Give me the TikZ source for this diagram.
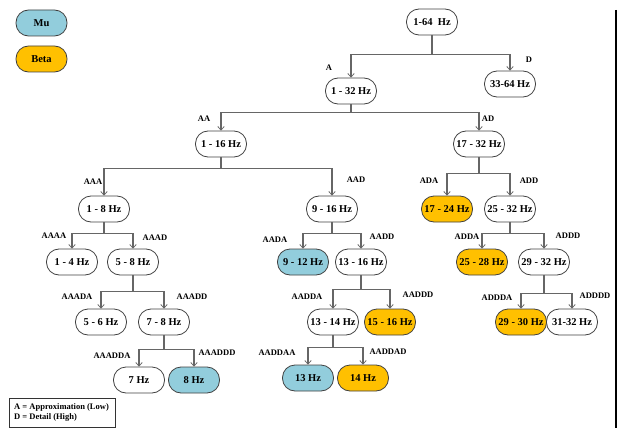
\documentclass[tikz,border=0pt]{standalone}
\usepackage{fontspec}
\setmainfont{Liberation Serif}
\usetikzlibrary{arrows.meta}
\definecolor{mublue}{HTML}{92CDDC}
\definecolor{betaorange}{HTML}{FFC000}
\tikzset{
  band/.style={draw=black!75, line width=0.8pt, rounded corners=12.5pt, minimum width=51pt, minimum height=26pt, inner sep=0pt, font=\fontsize{10.5}{12}\selectfont\bfseries, fill=white},
  mu/.style={band, fill=mublue},
  beta/.style={band, fill=betaorange},
  lbl/.style={font=\fontsize{8.5}{10}\selectfont\bfseries, inner sep=0pt},
  conn/.style={draw=black!60, line width=1.1pt},
  arr/.style={conn, -{Straight Barb[length=3.5pt,width=6.5pt,line width=0.8pt]}},
}
\begin{document}
\begin{tikzpicture}[x=1pt,y=-1pt]
\useasboundingbox (0,0) rectangle (624,428);
% legend
\node[mu] (legmu) at (41.5,23) {Mu};
\node[beta] (legbeta) at (41.5,59) {Beta};
% tree nodes
\node[band] (top) at (432,22) {1-64\ \ Hz};
\node[band] (a) at (351,91) {1 - 32 Hz};
\node[band] (d) at (510,84) {33-64 Hz};
\node[band] (aa) at (221,144) {1 - 16 Hz};
\node[band] (ad) at (479,144) {17 - 32 Hz};
\node[band] (aaa) at (104,209) {1 - 8 Hz};
\node[band] (aad) at (332,209) {9 - 16 Hz};
\node[beta] (ada) at (447,209) {17 - 24 Hz};
\node[band] (add) at (510,209) {25 - 32 Hz};
\node[band] (aaaa) at (72,262) {1 - 4 Hz};
\node[band] (aaad) at (133,262) {5 - 8 Hz};
\node[mu] (aada) at (303,262) {9 - 12 Hz};
\node[band] (aadd) at (361,262) {13 - 16 Hz};
\node[beta] (adda) at (482,262) {25 - 28 Hz};
\node[band] (addd) at (544,262) {29 - 32 Hz};
\node[band] (aaada) at (101,322) {5 - 6 Hz};
\node[band] (aaadd) at (164,322) {7 - 8 Hz};
\node[band] (aadda) at (333,322) {13 - 14 Hz};
\node[beta] (aaddd) at (390,322) {15 - 16 Hz};
\node[beta] (addda) at (521,322) {29 - 30 Hz};
\node[band] (adddd) at (572,322) {31-32 Hz};
\node[band] (aaadda) at (139,380) {7 Hz};
\node[mu] (aaaddd) at (194,380) {8 Hz};
\node[mu] (aaddaa) at (308,378) {13 Hz};
\node[beta] (aaddad) at (363,378) {14 Hz};
% connectors
\draw[arr] (top.south) -- ++(0,19) -| (a.north);
\draw[arr] (top.south) -- ++(0,19) -| (d.north);
\draw[arr] (a.south) -- ++(0,8) -| (aa.north);
\draw[arr] (a.south) -- ++(0,8) -| (ad.north);
\draw[arr] (aa.south) -- ++(0,11) -| (aaa.north);
\draw[arr] (aa.south) -- ++(0,11) -| (aad.north);
\draw[arr] (ad.south) -- ++(0,16) -| (ada.north);
\draw[arr] (ad.south) -- ++(0,16) -| (add.north);
\draw[arr] (aaa.south) -- ++(0,11) -| (aaaa.north);
\draw[arr] (aaa.south) -- ++(0,11) -| (aaad.north);
\draw[arr] (aad.south) -- ++(0,11) -| (aada.north);
\draw[arr] (aad.south) -- ++(0,11) -| (aadd.north);
\draw[arr] (add.south) -- ++(0,11) -| (adda.north);
\draw[arr] (add.south) -- ++(0,11) -| (addd.north);
\draw[arr] (aaad.south) -- ++(0,16) -| (aaada.north);
\draw[arr] (aaad.south) -- ++(0,16) -| (aaadd.north);
\draw[arr] (aadd.south) -- ++(0,14) -| (aadda.north);
\draw[arr] (aadd.south) -- ++(0,14) -| (aaddd.north);
\draw[arr] (addd.south) -- ++(0,18) -| (addda.north);
\draw[arr] (addd.south) -- ++(0,18) -| (adddd.north);
\draw[arr] (aaadd.south) -- ++(0,14) -| (aaadda.north);
\draw[arr] (aaadd.south) -- ++(0,14) -| (aaaddd.north);
\draw[arr] (aadda.south) -- ++(0,12) -| (aaddaa.north);
\draw[arr] (aadda.south) -- ++(0,12) -| (aaddad.north);
% branch labels
\node[lbl] (lA) at (329,68) {A};
\node[lbl] (lD) at (529,60) {D};
\node[lbl] (lAA) at (204,119) {AA};
\node[lbl] (lAD) at (488,119) {AD};
\node[lbl] (lAAA) at (93,182) {AAA};
\node[lbl] (lAAD) at (356,180) {AAD};
\node[lbl] (lADA) at (429,181) {ADA};
\node[lbl] (lADD) at (529,181) {ADD};
\node[lbl] (lAAAA) at (54,236) {AAAA};
\node[lbl] (lAAAD) at (155,238) {AAAD};
\node[lbl] (lAADA) at (275,240) {AADA};
\node[lbl] (lAADD) at (382,237) {AADD};
\node[lbl] (lADDA) at (467,237) {ADDA};
\node[lbl] (lADDD) at (568,236) {ADDD};
\node[lbl] (lAAADA) at (77,297) {AAADA};
\node[lbl] (lAAADD) at (192,297) {AAADD};
\node[lbl] (lAADDA) at (307,297) {AADDA};
\node[lbl] (lAADDD) at (418,295) {AADDD};
\node[lbl] (lADDDA) at (497,298) {ADDDA};
\node[lbl] (lADDDD) at (595,296) {ADDDD};
\node[lbl] (lAAADDA) at (112,356) {AAADDA};
\node[lbl] (lAAADDD) at (217,353) {AAADDD};
\node[lbl] (lAADDAA) at (277,353) {AADDAA};
\node[lbl] (lAADDAD) at (388,352) {AADDAD};
% key box
\node[draw=black!80, line width=0.7pt, minimum width=106pt, minimum height=29pt, inner sep=0pt] (key) at (62,412.5) {};
\node[lbl, anchor=west, align=left, font=\fontsize{8.5}{10.5}\selectfont\bfseries] (keytext) at (14,412.5) {A = Approximation (Low)\\D = Detail (High)};
% right edge line
\draw[black, line width=2pt] (616,10) -- (616,428);
\end{tikzpicture}
\end{document}
